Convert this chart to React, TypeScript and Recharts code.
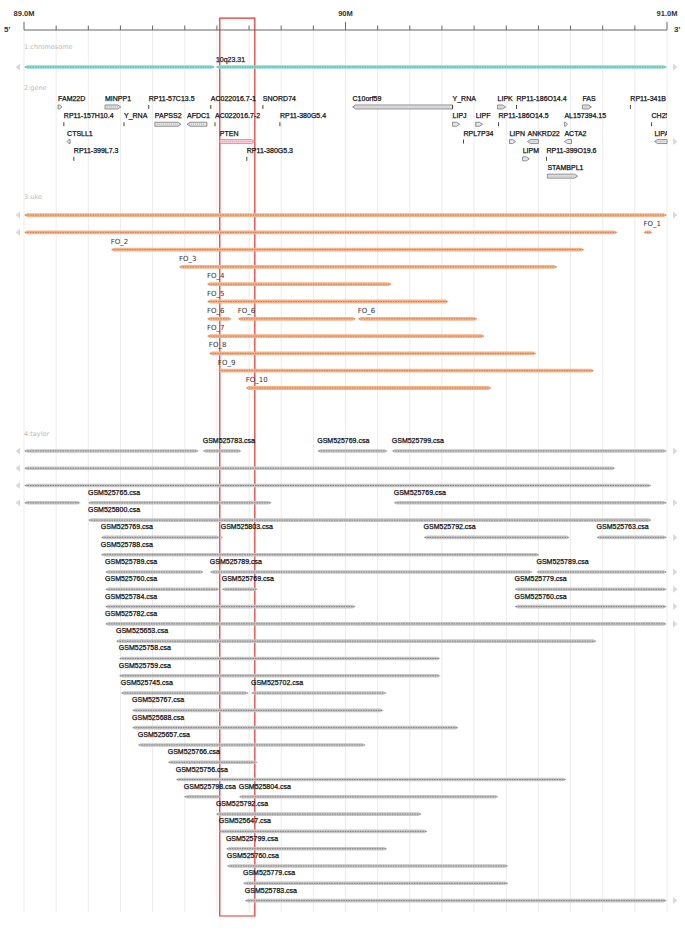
import React from "react";
import { ComposedChart, XAxis, YAxis, CartesianGrid, ReferenceLine, ReferenceArea, Scatter } from "recharts";

// genome browser view of chr10 89.0M - 91.0M, values in Mb
const W = 685;
const H = 939;
const X_MIN = 89.0;
const X_MAX = 91.0;
const PLOT_RIGHT = 667;

const AXIS_TICKS = [89.0, 89.1, 89.2, 89.3, 89.4, 89.5, 89.6, 89.7, 89.8, 89.9, 90.0, 90.1, 90.2, 90.3, 90.4, 90.5, 90.6, 90.7, 90.8, 90.9, 91.0];
const AXIS_LABELS: Record<number, string> = { 89: "89.0M", 90: "90M", 91: "91.0M" };

// lanes (y units, one lane = one feature row)
const CHROM_LANE = 2.14;
const GENE_LANE0 = 4.45;
const UKE_LANE0 = 10.7;
const TAYLOR_LANE0 = 24.34;

const TRACK_TITLES = [
    { x: 89.0, y: 1.1, name: "1:chromosome" },
    { x: 89.0, y: 3.47, name: "2:gene" },
    { x: 89.0, y: 9.77, name: "3:uke" },
    { x: 89.0, y: 23.48, name: "4:taylor" },
];

const CHROM_BANDS = [
    { row: 0, start: 89.0, end: 89.594, name: "" },
    { row: 0, start: 89.597, end: 91.0, name: "10q23.31" },
];

// strand: "+" / "-" / "" (tiny feature drawn as tick)
const GENES = [
    { row: 0, start: 89.106, end: 89.118, strand: "+", name: "FAM22D" },
    { row: 0, start: 89.252, end: 89.301, strand: "+", name: "MINPP1" },
    { row: 0, start: 89.388, end: 89.39, strand: "", name: "RP11-57C13.5" },
    { row: 0, start: 89.581, end: 89.583, strand: "", name: "AC022016.7-1" },
    { row: 0, start: 89.743, end: 89.745, strand: "", name: "SNORD74" },
    { row: 0, start: 90.022, end: 90.333, strand: "-", name: "C10orf59" },
    { row: 0, start: 90.333, end: 90.335, strand: "", name: "Y_RNA" },
    { row: 0, start: 90.473, end: 90.498, strand: "+", name: "LIPK" },
    { row: 0, start: 90.532, end: 90.534, strand: "", name: "RP11-186O14.4" },
    { row: 0, start: 90.737, end: 90.765, strand: "+", name: "FAS" },
    { row: 0, start: 90.886, end: 90.888, strand: "", name: "RP11-341B" },
    { row: 1, start: 89.124, end: 89.126, strand: "", name: "RP11-157H10.4" },
    { row: 1, start: 89.311, end: 89.313, strand: "", name: "Y_RNA" },
    { row: 1, start: 89.407, end: 89.488, strand: "+", name: "PAPSS2" },
    { row: 1, start: 89.507, end: 89.569, strand: "-", name: "AFDC1" },
    { row: 1, start: 89.594, end: 89.596, strand: "", name: "AC022016.7-2" },
    { row: 1, start: 89.796, end: 89.798, strand: "", name: "RP11-380G5.4" },
    { row: 1, start: 90.333, end: 90.355, strand: "+", name: "LIPJ" },
    { row: 1, start: 90.405, end: 90.426, strand: "+", name: "LIPF" },
    { row: 1, start: 90.476, end: 90.478, strand: "", name: "RP11-186O14.5" },
    { row: 1, start: 90.681, end: 90.687, strand: "+", name: "AL157394.15" },
    { row: 1, start: 90.952, end: 90.954, strand: "", name: "CH25H" },
    { row: 2, start: 89.134, end: 89.138, strand: "-", name: "CTSLL1" },
    { row: 2, start: 89.609, end: 89.718, strand: "+", name: "PTEN" },
    { row: 2, start: 90.367, end: 90.369, strand: "", name: "RPL7P34" },
    { row: 2, start: 90.51, end: 90.529, strand: "+", name: "LIPN" },
    { row: 2, start: 90.566, end: 90.6, strand: "-", name: "ANKRD22" },
    { row: 2, start: 90.681, end: 90.703, strand: "-", name: "ACTA2" },
    { row: 2, start: 90.961, end: 91.0, strand: "-", name: "LIPA" },
    { row: 3, start: 89.155, end: 89.157, strand: "", name: "RP11-399L7.3" },
    { row: 3, start: 89.693, end: 89.695, strand: "", name: "RP11-380G5.3" },
    { row: 3, start: 90.551, end: 90.572, strand: "+", name: "LIPM" },
    { row: 3, start: 90.625, end: 90.627, strand: "", name: "RP11-399O19.6" },
    { row: 4, start: 90.628, end: 90.722, strand: "+", name: "STAMBPL1" },
];

const UKE = [
    { row: 0, start: 89.0, end: 91.0, name: "" },
    { row: 1, start: 89.0, end: 90.846, name: "" },
    { row: 1, start: 90.927, end: 90.955, name: "FO_1" },
    { row: 2, start: 89.27, end: 90.743, name: "FO_2" },
    { row: 3, start: 89.482, end: 90.659, name: "FO_3" },
    { row: 4, start: 89.569, end: 90.144, name: "FO_4" },
    { row: 5, start: 89.569, end: 90.321, name: "FO_5" },
    { row: 6, start: 89.569, end: 89.646, name: "FO_6" },
    { row: 6, start: 89.665, end: 90.032, name: "FO_6" },
    { row: 6, start: 90.038, end: 90.411, name: "FO_6" },
    { row: 7, start: 89.569, end: 90.433, name: "FO_7" },
    { row: 8, start: 89.575, end: 90.594, name: "FO_8" },
    { row: 9, start: 89.603, end: 90.774, name: "FO_9" },
    { row: 10, start: 89.69, end: 90.454, name: "FO_10" },
];

const TAYLOR = [
    { row: 0, start: 89.0, end: 89.544, name: "" },
    { row: 0, start: 89.556, end: 89.677, name: "GSM525783.csa" },
    { row: 0, start: 89.912, end: 90.131, name: "GSM525769.csa" },
    { row: 0, start: 90.144, end: 91.0, name: "GSM525799.csa" },
    { row: 1, start: 89.0, end: 90.84, name: "" },
    { row: 2, start: 89.0, end: 90.952, name: "" },
    { row: 3, start: 89.0, end: 89.177, name: "" },
    { row: 3, start: 89.199, end: 89.771, name: "GSM525765.csa" },
    { row: 3, start: 90.15, end: 91.0, name: "GSM525769.csa" },
    { row: 4, start: 89.199, end: 90.952, name: "GSM525800.csa" },
    { row: 5, start: 89.239, end: 89.609, name: "GSM525769.csa" },
    { row: 5, start: 89.612, end: 89.618, name: "GSM525803.csa" },
    { row: 5, start: 90.243, end: 90.697, name: "GSM525792.csa" },
    { row: 5, start: 90.781, end: 91.0, name: "GSM525763.csa" },
    { row: 6, start: 89.239, end: 90.603, name: "GSM525788.csa" },
    { row: 7, start: 89.252, end: 89.559, name: "GSM525789.csa" },
    { row: 7, start: 89.578, end: 90.582, name: "GSM525789.csa" },
    { row: 7, start: 90.594, end: 91.0, name: "GSM525789.csa" },
    { row: 8, start: 89.252, end: 89.609, name: "GSM525760.csa" },
    { row: 8, start: 89.615, end: 89.727, name: "GSM525769.csa" },
    { row: 8, start: 90.526, end: 91.0, name: "GSM525779.csa" },
    { row: 9, start: 89.252, end: 90.032, name: "GSM525784.csa" },
    { row: 9, start: 90.526, end: 91.0, name: "GSM525760.csa" },
    { row: 10, start: 89.252, end: 91.0, name: "GSM525782.csa" },
    { row: 11, start: 89.286, end: 90.781, name: "GSM525653.csa" },
    { row: 12, start: 89.295, end: 90.296, name: "GSM525758.csa" },
    { row: 13, start: 89.295, end: 90.296, name: "GSM525759.csa" },
    { row: 14, start: 89.301, end: 89.699, name: "GSM525745.csa" },
    { row: 14, start: 89.706, end: 90.128, name: "GSM525702.csa" },
    { row: 15, start: 89.336, end: 90.119, name: "GSM525767.csa" },
    { row: 16, start: 89.336, end: 90.352, name: "GSM525688.csa" },
    { row: 17, start: 89.354, end: 90.063, name: "GSM525657.csa" },
    { row: 18, start: 89.447, end: 89.727, name: "GSM525766.csa" },
    { row: 19, start: 89.472, end: 90.687, name: "GSM525756.csa" },
    { row: 20, start: 89.497, end: 89.612, name: "GSM525798.csa" },
    { row: 20, start: 89.668, end: 90.476, name: "GSM525804.csa" },
    { row: 21, start: 89.597, end: 90.237, name: "GSM525792.csa" },
    { row: 22, start: 89.606, end: 90.255, name: "GSM525647.csa" },
    { row: 23, start: 89.628, end: 90.13, name: "GSM525799.csa" },
    { row: 24, start: 89.631, end: 90.507, name: "GSM525760.csa" },
    { row: 25, start: 89.681, end: 90.507, name: "GSM525779.csa" },
    { row: 26, start: 89.687, end: 91.0, name: "GSM525783.csa" },
];

const HIGHLIGHT = { start: 89.609, end: 89.718, top: -0.69, bottom: 51.23 };

interface Seg { row: number; start: number; end: number; name: string }
interface BandStyle { fill: string; dash: string; half: number; labelGap: number; font: string; color: string; weight: number }

const SANS = "'Liberation Sans', Arial, sans-serif";
const CHROM_STYLE: BandStyle = { fill: "#93d9d2", dash: "#4fb0a8", half: 1.7, labelGap: 5, font: SANS, color: "#222", weight: 0.25 };
const UKE_STYLE: BandStyle = { fill: "#f5b58c", dash: "#c77a4c", half: 1.9, labelGap: 6, font: "'DejaVu Sans', sans-serif", color: "#333", weight: 0 };
const TAYLOR_STYLE: BandStyle = { fill: "#c6c6c6", dash: "#808080", half: 1.8, labelGap: 8, font: SANS, color: "#111", weight: 0.25 };

const edgeArrows = (seg: { start: number; end: number }, x1: number, x2: number, y: number) => (
    <>
        {seg.start <= X_MIN && <polygon points={`${x1 - 4},${y - 3.5} ${x1 - 4},${y + 3.5} ${x1 - 8.5},${y}`} fill="#d9d9d9" />}
        {seg.end >= X_MAX && <polygon points={`${x2 + 6},${y - 3.5} ${x2 + 6},${y + 3.5} ${x2 + 10.5},${y}`} fill="#d9d9d9" />}
    </>
);

const bandShape = (seg: Seg, st: BandStyle) => (p: any) => {
    const { x1, x2, y1: y } = p;
    const h = st.half;
    const tip = Math.min(3, (x2 - x1) / 3);
    const pts = `${x1},${y} ${x1 + tip},${y - h} ${x2 - tip},${y - h} ${x2},${y} ${x2 - tip},${y + h} ${x1 + tip},${y + h}`;
    return (
        <g>
            <polygon points={pts} fill={st.fill} />
            <line x1={x1 + 1} x2={x2 - 1} y1={y} y2={y} stroke={st.dash} strokeWidth={1} strokeDasharray="1.5 1" />
            {edgeArrows(seg, x1, x2, y)}
            {seg.name && (
                <text
                    x={x1}
                    y={y - st.labelGap}
                    fontSize={7}
                    fontFamily={st.font}
                    fill={st.color}
                    stroke={st.weight ? st.color : "none"}
                    strokeWidth={st.weight}
                >
                    {seg.name}
                </text>
            )}
        </g>
    );
};

const geneShape = (g: (typeof GENES)[number], idx: number) => (p: any) => {
    const { x1, x2, y1: y } = p;
    const pten = g.name === "PTEN";
    const fill = pten ? "#fbd0da" : "#e6e6ec";
    const stroke = pten ? "#e06a84" : "#666";
    let glyph: React.ReactNode;
    if (!g.strand) {
        glyph = <line x1={x1} x2={x1} y1={y - 2} y2={y + 2} stroke="#444" strokeWidth={1} />;
    } else {
        const w = Math.max(x2 - x1, 3);
        const a = Math.min(3, w * 0.6);
        const xe = x1 + w;
        const pts = g.strand === "+"
            ? `${x1},${y - 2} ${xe - a},${y - 2} ${xe},${y} ${xe - a},${y + 2} ${x1},${y + 2}`
            : `${x1},${y} ${x1 + a},${y - 2} ${xe},${y - 2} ${xe},${y + 2} ${x1 + a},${y + 2}`;
        glyph = (
            <g>
                <polygon points={pts} fill={fill} stroke={stroke} strokeWidth={0.7} />
                {w > 8 && <line x1={x1 + 2} x2={xe - 2} y1={y} y2={y} stroke={pten ? "#e892a6" : "#aaa"} strokeWidth={1} strokeDasharray="1 1" />}
            </g>
        );
    }
    const cid = `gclip-${idx}`;
    return (
        <g>
            <defs>
                <clipPath id={cid}>
                    <rect x={0} y={0} width={PLOT_RIGHT} height={H} />
                </clipPath>
            </defs>
            {glyph}
            {edgeArrows(g, x1, x2, y)}
            <text x={x1} y={y - 6} fontSize={7} fontFamily={SANS} fill="#111" stroke="#111" strokeWidth={0.25} clipPath={`url(#${cid})`}>
                {g.name}
            </text>
        </g>
    );
};

const AxisTick = (props: any) => {
    const { x, y, payload } = props;
    const v = Math.round(payload.value * 10) / 10;
    const label = AXIS_LABELS[v];
    const major = Number.isInteger(v);
    return (
        <g>
            <line x1={x} x2={x} y1={y} y2={y - (major ? 8 : 4.5)} stroke="#666" strokeWidth={1} />
            {label && (
                <text x={x} y={y - 14} textAnchor="middle" fontSize={7.5} fontWeight="bold" fontFamily={SANS} fill="#333">
                    {label}
                </text>
            )}
            {v === X_MIN && (
                <text x={x - 20} y={y + 2} fontSize={8} fontWeight="bold" fontFamily={SANS} fill="#333">5'</text>
            )}
            {v === X_MAX && (
                <text x={x + 7} y={y + 2} fontSize={8} fontWeight="bold" fontFamily={SANS} fill="#333">3'</text>
            )}
        </g>
    );
};

const TitleShape = (props: any) => {
    const { cx, cy, payload } = props;
    return (
        <text x={cx} y={cy} fontSize={6.5} fontFamily="'DejaVu Sans', sans-serif" fill="#b8b8b8">
            {payload.name}
        </text>
    );
};

export default function App() {
    return (
        <div style={{ position: "absolute", left: 0, top: 0, width: W, height: H, background: "#fff" }}>
            <ComposedChart width={W} height={H} margin={{ top: 0, right: 18, bottom: 27, left: 24 }}>
                <CartesianGrid horizontal={false} stroke="#ececec" />
                <XAxis
                    type="number"
                    dataKey="x"
                    orientation="top"
                    domain={[X_MIN, X_MAX]}
                    ticks={AXIS_TICKS}
                    interval={0}
                    height={30}
                    tickSize={0}
                    tickMargin={0}
                    tickLine={false}
                    tick={<AxisTick />}
                    axisLine={{ stroke: "#666" }}
                    allowDataOverflow
                />
                <YAxis type="number" dataKey="y" domain={[0, 51]} reversed hide width={0} allowDataOverflow />
                <Scatter data={TRACK_TITLES} shape={<TitleShape />} isAnimationActive={false} />
                {CHROM_BANDS.map((s, i) => (
                    <ReferenceLine
                        key={`c${i}`}
                        ifOverflow="visible"
                        segment={[{ x: s.start, y: CHROM_LANE + s.row }, { x: s.end, y: CHROM_LANE + s.row }]}
                        shape={bandShape(s, CHROM_STYLE)}
                    />
                ))}
                {GENES.map((g, i) => (
                    <ReferenceLine
                        key={`g${i}`}
                        ifOverflow="visible"
                        segment={[{ x: g.start, y: GENE_LANE0 + g.row }, { x: g.end, y: GENE_LANE0 + g.row }]}
                        shape={geneShape(g, i)}
                    />
                ))}
                {UKE.map((s, i) => (
                    <ReferenceLine
                        key={`u${i}`}
                        ifOverflow="visible"
                        segment={[{ x: s.start, y: UKE_LANE0 + s.row }, { x: s.end, y: UKE_LANE0 + s.row }]}
                        shape={bandShape(s, UKE_STYLE)}
                    />
                ))}
                {TAYLOR.map((s, i) => (
                    <ReferenceLine
                        key={`t${i}`}
                        ifOverflow="visible"
                        segment={[{ x: s.start, y: TAYLOR_LANE0 + s.row }, { x: s.end, y: TAYLOR_LANE0 + s.row }]}
                        shape={bandShape(s, TAYLOR_STYLE)}
                    />
                ))}
                <ReferenceArea
                    x1={HIGHLIGHT.start}
                    x2={HIGHLIGHT.end}
                    y1={HIGHLIGHT.top}
                    y2={HIGHLIGHT.bottom}
                    ifOverflow="visible"
                    fill="none"
                    fillOpacity={0}
                    stroke="#e5312c"
                    strokeWidth={1.2}
                />
            </ComposedChart>
        </div>
    );
}
